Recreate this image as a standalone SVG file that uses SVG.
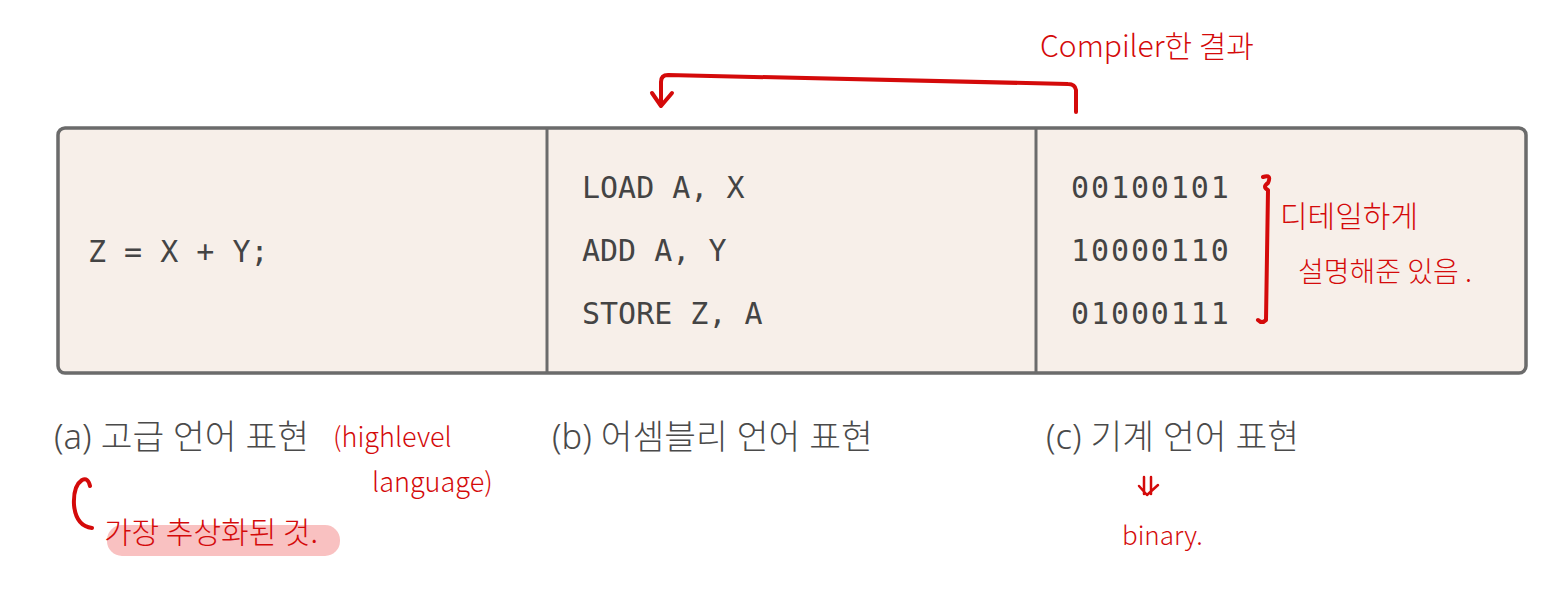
<svg xmlns="http://www.w3.org/2000/svg" width="1553" height="595" viewBox="0 0 1553 595">
<style>
.code{font-family:"DejaVu Sans Mono","Liberation Mono",monospace;font-size:30px;fill:#444}
.bin{letter-spacing:1.9px}
.cap{font-family:"Noto Sans","Noto Sans CJK KR",sans-serif;font-size:34.5px;fill:#4a4a4a;font-weight:300}
.hand{font-family:"Noto Sans CJK KR","Noto Sans",sans-serif;fill:#d40a0a;font-weight:300}
.red{fill:none;stroke:#d40a0a;stroke-width:4;stroke-linecap:round;stroke-linejoin:round}
.redthin{fill:none;stroke:#d40a0a;stroke-width:2.5;stroke-linecap:round;stroke-linejoin:round}
</style>
<rect width="1553" height="595" fill="#ffffff"/>
<g id="table">
<rect x="58" y="128" width="1468" height="245" rx="7" fill="#f7efe9" stroke="#6b6b6b" stroke-width="3.5"/>
<line x1="547" y1="128" x2="547" y2="373" stroke="#6b6b6b" stroke-width="3"/>
<line x1="1036" y1="128" x2="1036" y2="373" stroke="#6b6b6b" stroke-width="3"/>
</g>
<g id="high-level">
<text class="code" x="88" y="262">Z = X + Y;</text>
<text class="cap" x="54" y="449">(a) 고급 언어 표현</text>
</g>
<g id="assembly">
<text class="code" x="582" y="198">LOAD A, X</text>
<text class="code" x="582" y="261">ADD A, Y</text>
<text class="code" x="582" y="324">STORE Z, A</text>
<text class="cap" x="552" y="449">(b) 어셈블리 언어 표현</text>
</g>
<g id="machine">
<text class="code bin" x="1071" y="198">00100101</text>
<text class="code bin" x="1071" y="261">10000110</text>
<text class="code bin" x="1071" y="324">01000111</text>
<text class="cap" x="1046" y="449">(c) 기계 언어 표현</text>
</g>
<g id="connectors">
<path class="red" d="M1076 112 L1076 90 Q1075 84 1068 84 L668 75 Q661 75 661 82 L661 104"/>
<path class="red" d="M652 93 L661 106 L672 93"/>
<path class="red" d="M1263 177 Q1272 174 1268 183 Q1262 187 1268 190 L1266 320 Q1262 324 1258 320"/>
<path class="red" d="M92 528 Q76 526 74 505 Q73 486 82 480 Q88 477 90 486"/>
<path class="redthin" d="M1144 477 L1144 494 M1151 477 L1151 494 M1139 486 L1147 495 L1158 485"/>
</g>
<g id="annotations">
<rect x="107" y="525" width="233" height="31" rx="15" fill="#f7b2b2" opacity="0.8"/>
<text class="hand" x="1040" y="57" font-size="30">Compiler한 결과</text>
<text class="hand" x="1280" y="227" font-size="30">디테일하게</text>
<text class="hand" x="1298" y="282" font-size="28">설명해준 있음 .</text>
<text class="hand" x="333" y="447" font-size="27">(highlevel</text>
<text class="hand" x="372" y="492" font-size="27">language)</text>
<text class="hand" x="104" y="543" font-size="30">가장 추상화된 것.</text>
<text class="hand" x="1122" y="545" font-size="26">binary.</text>
</g>
</svg>
